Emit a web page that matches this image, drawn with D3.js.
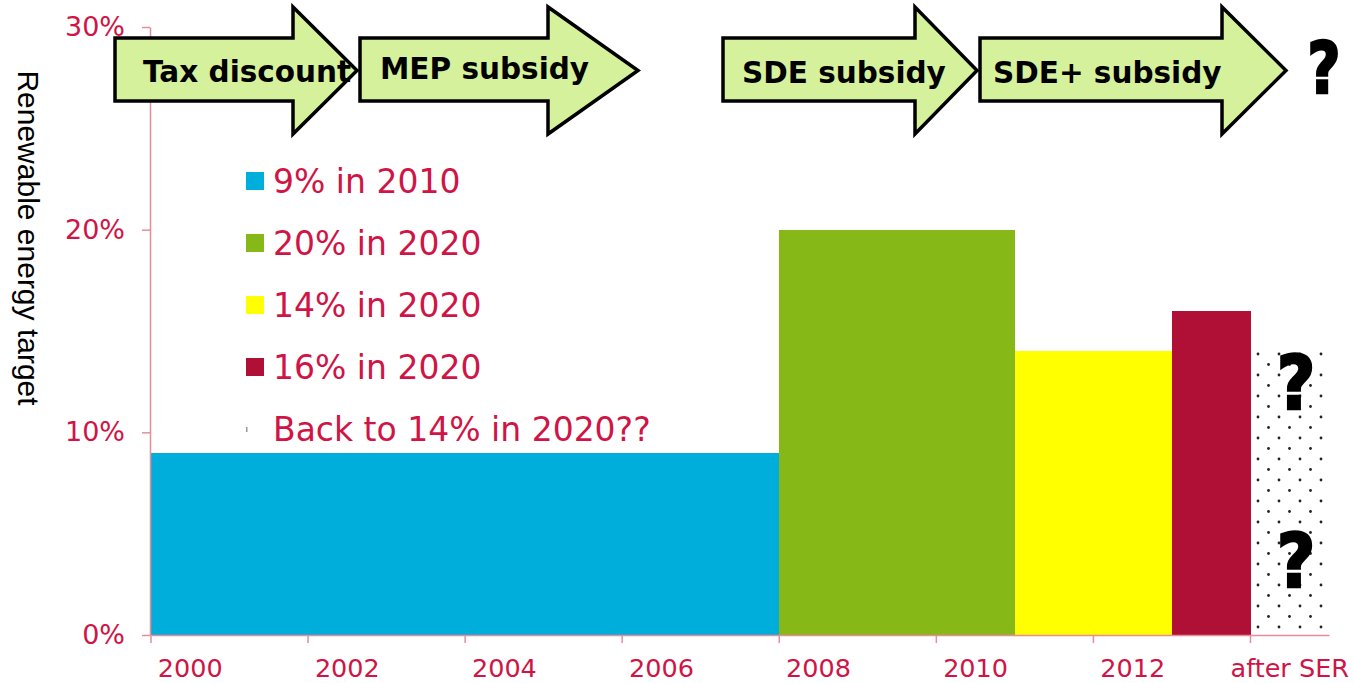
<!DOCTYPE html>
<html>
<head>
<meta charset="utf-8">
<script src="https://cdn.jsdelivr.net/npm/d3@7"></script>
<style>
  html, body { margin: 0; padding: 0; background: #fff; }
  svg { display: block; }
</style>
</head>
<body>
<svg id="chart"></svg>
<script>
// renewable energy targets per year (NL), last column is the open question
var categories = ["2000","2001","2002","2003","2004","2005","2006","2007","2008","2009","2010","2011","2012","2013","after SER"];
var targets   = [9, 9, 9, 9, 9, 9, 9, 9, 20, 20, 20, 14, 14, 16, 14];
var seriesOf  = [0, 0, 0, 0, 0, 0, 0, 0, 1, 1, 1, 2, 2, 3, 4];
var seriesNames = ["9% in 2010", "20% in 2020", "14% in 2020", "16% in 2020", "Back to 14% in 2020??"];
var xLabels = ["2000","2002","2004","2006","2008","2010","2012","after SER"];
var yTicks = [0, 10, 20, 30];
var policies = ["Tax discount", "MEP subsidy", "SDE subsidy", "SDE+ subsidy"];

var width = 1353, height = 683;
var seriesColors = ["#00AEDB", "#86B817", "#FFFF00", "#B01036", "url(#dots)"];
var red = "#D01446", axisCol = "#E58D9B";

// arrow geometry: [left of body, start of head, tip, text x, text baseline]
var arrowGeo = [[115, 293, 357, 143, 82], [360, 548, 638, 380, 79], [723, 915, 977, 742, 83], [980, 1222, 1286, 993, 83]];

var svg = d3.select("#chart").attr("width", width).attr("height", height);

var defs = svg.append("defs");
var pat = defs.append("pattern").attr("id", "dots")
  .attr("patternUnits", "userSpaceOnUse")
  .attr("width", 21).attr("height", 21)
  .attr("x", 1253).attr("y", 349);
pat.append("rect").attr("width", 21).attr("height", 21).attr("fill", "#fff");
pat.append("circle").attr("cx", 5).attr("cy", 5).attr("r", 1.4).attr("fill", "#222");
pat.append("circle").attr("cx", 15.5).attr("cy", 15.5).attr("r", 1.4).attr("fill", "#222");

var x = d3.scaleBand().domain(categories).range([151, 1329]).padding(0);
var y = d3.scaleLinear().domain([0, 30]).range([635, 27]);

// bars
svg.append("g").selectAll("rect").data(categories).enter().append("rect")
  .attr("x", function(d, i) { return seriesOf[i] == 4 ? x(d) + 2 : x(d); })
  .attr("width", function(d, i) { return seriesOf[i] == 4 ? x.bandwidth() - 2 : x.bandwidth() + 0.5; })
  .attr("y", function(d, i) { return y(targets[i]); })
  .attr("height", function(d, i) { return y(0) - y(targets[i]); })
  .attr("fill", function(d, i) { return seriesColors[seriesOf[i]]; })
  .attr("shape-rendering", "crispEdges");

// y axis
var yAxis = svg.append("g").attr("transform", "translate(150,0)")
  .call(d3.axisLeft(y).tickValues(yTicks).tickFormat(function(d) { return d + "%"; }).tickSize(8).tickSizeOuter(0).tickPadding(17));
yAxis.select(".domain").attr("stroke", axisCol).attr("stroke-width", 1.5);
yAxis.selectAll(".tick line").attr("stroke", axisCol).attr("stroke-width", 1.5);
yAxis.selectAll(".tick text").attr("fill", red).attr("font-family", "DejaVu Sans").attr("font-size", 27);

// x axis, ticks sit on the left edge of each labelled year
var xAxis = svg.append("g").attr("transform", "translate(0,635)")
  .call(d3.axisBottom(x).tickValues(xLabels).tickSize(8).tickSizeOuter(0));
xAxis.select(".domain").attr("stroke", axisCol).attr("stroke-width", 1.5);
xAxis.selectAll(".tick line").attr("stroke", axisCol).attr("stroke-width", 1.5)
  .attr("x1", -x.bandwidth() / 2).attr("x2", -x.bandwidth() / 2);
xAxis.selectAll(".tick text").attr("fill", red).attr("font-family", "DejaVu Sans").attr("font-size", 25.5)
  .attr("y", 42).attr("dy", 0);

// axis title
svg.append("text")
  .attr("transform", "translate(18,238) rotate(90)")
  .attr("text-anchor", "middle")
  .attr("font-family", "Liberation Sans, Arial, sans-serif")
  .attr("font-size", 30)
  .attr("fill", "#000")
  .text("Renewable energy target");

// legend
var leg = svg.append("g").selectAll("g").data(seriesNames).enter().append("g")
  .attr("transform", function(d, i) { return "translate(0," + (193 + i * 62) + ")"; });
leg.append("rect")
  .attr("x", 246)
  .attr("y", function(d, i) { return i == 4 ? -14 : -21; })
  .attr("width", function(d, i) { return i == 4 ? 1.5 : 18; })
  .attr("height", function(d, i) { return i == 4 ? 5 : 18; })
  .attr("fill", function(d, i) { return i == 4 ? "#999" : seriesColors[i]; });
leg.append("text")
  .attr("x", 273).attr("y", 0)
  .attr("font-family", "DejaVu Sans")
  .attr("font-size", 33)
  .attr("fill", red)
  .text(function(d) { return d; });

// policy arrows
var arrows = svg.append("g").selectAll("g").data(policies).enter().append("g");
arrows.append("polygon")
  .attr("points", function(d, i) {
    var a = arrowGeo[i];
    return [[a[0], 38], [a[1], 38], [a[1], 7], [a[2], 70.5], [a[1], 134], [a[1], 101], [a[0], 101]].join(" ");
  })
  .attr("fill", "#D5F19B")
  .attr("stroke", "#000")
  .attr("stroke-width", 3.5)
  .attr("stroke-linejoin", "miter");
arrows.append("text")
  .attr("x", function(d, i) { return arrowGeo[i][3]; })
  .attr("y", function(d, i) { return arrowGeo[i][4]; })
  .attr("font-family", "DejaVu Sans")
  .attr("font-weight", "bold")
  .attr("font-size", 29.5)
  .attr("fill", "#000")
  .text(function(d) { return d; });

// question marks
function qmark(cx, base, size, sx) {
  svg.append("text")
    .attr("transform", "translate(" + cx + "," + base + ") scale(" + sx + ",1)")
    .attr("text-anchor", "middle")
    .attr("font-family", "DejaVu Sans")
    .attr("font-weight", "bold")
    .attr("font-size", size)
    .attr("fill", "#000")
    .attr("stroke", "#000")
    .attr("stroke-width", 2.5)
    .text("?");
}
qmark(1324, 93, 72, 0.8);
qmark(1296, 409, 74, 0.9);
qmark(1296, 587, 74, 0.9);
</script>
</body>
</html>
